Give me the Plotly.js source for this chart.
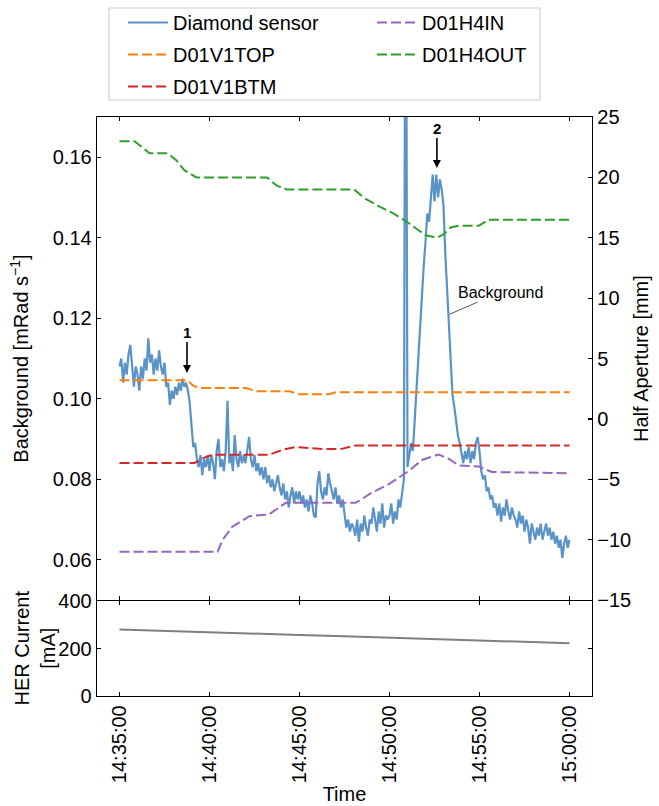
<!DOCTYPE html>
<html><head><meta charset="utf-8">
<script src="https://cdn.plot.ly/plotly-3.0.1.min.js"></script>
<style>html,body{margin:0;padding:0;background:#fff}</style>
</head><body><div id="chart" style="width:659px;height:806px"></div>
<script>
const DAY = "2024-01-01 ";
// Diamond sensor background rate [mRad/s], read every 6 s from 14:35:00
const diamondStart = "14:35:00";
const diamondStepSec = 6;
const diamondValues = [
 0.108,0.110,0.104,0.109,0.106,0.111,0.1134,0.107,0.103,0.108,
 0.106,0.102,0.108,0.105,0.110,0.107,0.115,0.109,0.111,0.106,
 0.110,0.107,0.112,0.108,0.106,0.109,0.103,0.104,0.0985,0.102,
 0.100,0.103,0.101,0.104,0.102,0.105,0.103,0.104,0.102,0.099,
 0.094,0.088,0.089,0.085,0.083,0.086,0.081,0.085,0.083,0.086,
 0.082,0.086,0.084,0.080,0.087,0.090,0.083,0.085,0.082,0.087,
 0.0995,0.084,0.086,0.082,0.091,0.085,0.083,0.087,0.084,0.086,
 0.084,0.087,0.0905,0.085,0.083,0.086,0.082,0.084,0.081,0.083,
 0.080,0.083,0.079,0.081,0.078,0.080,0.077,0.079,0.081,0.078,
 0.076,0.079,0.075,0.077,0.073,0.076,0.078,0.074,0.077,0.075,
 0.077,0.074,0.076,0.073,0.075,0.072,0.076,0.074,0.071,0.0705,
 0.079,0.082,0.077,0.075,0.078,0.076,0.0815,0.079,0.077,0.075,
 0.078,0.074,0.076,0.073,0.075,0.071,0.068,0.070,0.067,0.069,
 0.068,0.066,0.070,0.0645,0.069,0.067,0.071,0.068,0.066,0.070,
 0.069,0.073,0.070,0.067,0.072,0.069,0.074,0.068,0.071,0.070,
 0.071,0.074,0.069,0.072,0.070,0.075,0.073,0.077,0.080,0.25,
 0.083,0.086,0.089,0.087,0.095,0.103,0.111,0.118,0.126,0.133,
 0.139,0.146,0.144,0.151,0.1557,0.149,0.1557,0.150,0.1545,0.152,
 0.148,0.136,0.127,0.119,0.110,0.101,0.098,0.094,0.091,0.089,
 0.086,0.084,0.087,0.085,0.088,0.084,0.087,0.085,0.089,0.0905,
 0.087,0.082,0.080,0.081,0.077,0.078,0.075,0.076,0.073,0.074,
 0.071,0.074,0.0695,0.073,0.071,0.075,0.072,0.070,0.073,0.071,
 0.070,0.068,0.072,0.069,0.071,0.067,0.070,0.068,0.064,0.069,
 0.067,0.065,0.068,0.066,0.069,0.065,0.067,0.069,0.066,0.068,
 0.065,0.067,0.064,0.066,0.063,0.065,0.0605,0.064,0.066,0.063,
 0.065
];
// Collimator half apertures [mm]
const v1topTimes = ["14:35:00","14:38:46","14:39:06","14:39:26","14:42:01","14:42:35","14:44:25","14:44:59","14:46:38","14:47:01","15:00:00"];
const v1topValues = [3.2,3.2,2.75,2.55,2.55,2.3,2.3,2.05,2.05,2.2,2.2];
const v1btmTimes = ["14:35:00","14:39:10","14:39:43","14:40:10","14:43:19","14:44:05","14:44:48","14:46:15","14:47:17","14:48:07","15:00:00"];
const v1btmValues = [-3.65,-3.65,-3.2,-2.96,-2.96,-2.55,-2.33,-2.5,-2.5,-2.2,-2.2];
const h4inTimes = ["14:35:00","14:40:27","14:40:44","14:41:17","14:42:13","14:43:19","14:44:14","14:48:07","14:49:02","14:49:58","14:51:05","14:51:48","14:52:44","14:53:17","14:53:51","14:54:58","14:55:41","15:00:00"];
const h4inValues = [-11.0,-11.0,-10.0,-8.9,-8.06,-7.9,-6.95,-6.95,-6.1,-5.4,-4.3,-3.4,-2.95,-3.3,-3.85,-3.95,-4.4,-4.5];
const h4outTimes = ["14:35:00","14:35:50","14:36:40","14:37:40","14:38:10","14:38:36","14:39:16","14:43:12","14:43:30","14:43:46","14:44:19","14:48:02","14:48:35","14:49:25","14:50:14","14:51:05","14:51:38","14:52:01","14:52:38","14:53:01","14:53:24","14:53:51","14:54:58","14:55:31","15:00:00"];
const h4outValues = [23.0,23.0,22.0,22.0,21.4,20.6,20.0,20.0,19.6,19.3,19.0,19.0,18.3,17.6,17.0,16.2,15.6,15.2,15.0,15.3,15.85,16.0,16.0,16.5,16.5];
// HER beam current [mA]
const herTimes = ["14:35:00","14:37:30","14:40:00","14:42:30","14:45:00","14:47:30","14:50:00","14:52:30","14:55:00","14:57:30","15:00:00"];
const herValues = [281,276,270,265,258,252,246,240,234,228,223];
const xTickLabels = ["14:35:00","14:40:00","14:45:00","14:50:00","14:55:00","15:00:00"];
const backgroundTicks = [0.06,0.08,0.10,0.12,0.14,0.16];
const apertureTicks = [-15,-10,-5,0,5,10,15,20,25];
const currentTicks = [0,200,400];

function toDate(t){ return DAY + t; }
function addSec(t, s){
  const p = t.split(":").map(Number);
  let tot = p[0]*3600 + p[1]*60 + p[2] + s;
  const h = Math.floor(tot/3600); tot -= h*3600;
  const m = Math.floor(tot/60); const sec = tot - m*60;
  const f = n => String(n).padStart(2,"0");
  return f(h)+":"+f(m)+":"+f(sec);
}
const diamondTimes = diamondValues.map((v,i)=>toDate(addSec(diamondStart, i*diamondStepSec)));

const FONT = "Liberation Sans, Arial, Helvetica, sans-serif";
const DASH = "10px,4px";
const traces = [
  {x: diamondTimes, y: diamondValues, xaxis:"x2", yaxis:"y2", type:"scatter", mode:"lines",
   name:"Diamond sensor", line:{color:"#5a93c8", width:2.2}, legend:"legend", legendgroup:"a"},
  {x: v1topTimes.map(toDate), y: v1topValues, xaxis:"x2", yaxis:"y3", mode:"lines",
   name:"D01V1TOP", line:{color:"#ff7f0e", width:2, dash:DASH}, legend:"legend", legendgroup:"b"},
  {x: v1btmTimes.map(toDate), y: v1btmValues, xaxis:"x2", yaxis:"y3", mode:"lines",
   name:"D01V1BTM", line:{color:"#d62728", width:2, dash:DASH}, legend:"legend", legendgroup:"c"},
  {x: h4inTimes.map(toDate), y: h4inValues, xaxis:"x2", yaxis:"y3", mode:"lines",
   name:"D01H4IN", line:{color:"#9467bd", width:2, dash:DASH}, legend:"legend2", legendgroup:"d"},
  {x: h4outTimes.map(toDate), y: h4outValues, xaxis:"x2", yaxis:"y3", mode:"lines",
   name:"D01H4OUT", line:{color:"#2ca02c", width:2, dash:DASH}, legend:"legend2", legendgroup:"e"},
  {x: herTimes.map(toDate), y: herValues, xaxis:"x", yaxis:"y", mode:"lines",
   name:"HER current", line:{color:"#7f7f7f", width:2}, showlegend:false}
];

const W=659, H=806, L=97, R=67, T=117, B=110;
const plotW = W-L-R, plotH = H-T-B;
const LW = 1.3;
const split = (696-600.7)/plotH;
const half = (LW/2)/plotH;
const axCommon = {showline:true, linecolor:"#000", linewidth:LW, ticks:"inside", ticklen:4,
  tickcolor:"#000", tickwidth:1.2, showgrid:false, zeroline:false, automargin:false,
  tickfont:{family:FONT, size:20, color:"#000"}};
const xRange = [toDate("14:33:45"), toDate("15:01:15")];
const xTickVals = xTickLabels.map(toDate);

const legendCommon = {font:{family:FONT, size:20, color:"#000"}, bgcolor:"rgba(0,0,0,0)",
  borderwidth:0, traceorder:"grouped", tracegroupgap:3, itemwidth:40, xanchor:"left", yanchor:"top",
  xref:"paper", yref:"paper", itemclick:false};

const layout = {
  width:W, height:H, margin:{l:L, r:R, t:T, b:B, autoexpand:false},
  paper_bgcolor:"#fff", plot_bgcolor:"#fff",
  font:{family:FONT, size:20, color:"#000"},
  xaxis: Object.assign({}, axCommon, {type:"date", range:xRange, domain:[0,1], anchor:"y",
    tickvals:xTickVals, ticktext:xTickLabels, tickangle:-90, mirror:"ticks",
    title:{text:"Time", font:{family:FONT, size:20, color:"#000"}, standoff:4}}),
  xaxis2: Object.assign({}, axCommon, {type:"date", range:xRange, domain:[0,1], anchor:"y2",
    matches:"x", tickvals:xTickVals, showticklabels:false, mirror:"ticks"}),
  yaxis: Object.assign({}, axCommon, {domain:[0,split-half], range:[0,400], anchor:"x",
    tickvals:currentTicks, mirror:"ticks"}),
  yaxis2: Object.assign({}, axCommon, {domain:[split+half,1], range:[0.05,0.17], anchor:"x2",
    tickvals:backgroundTicks, tickformat:".2f",
    title:{text:"Background [mRad s<sup>−1</sup>]", font:{family:FONT, size:20, color:"#000"}, standoff:18}}),
  yaxis3: Object.assign({}, axCommon, {range:[-15,25], anchor:"x2", overlaying:"y2", side:"right",
    tickvals:apertureTicks,
    title:{text:"Half Aperture [mm]", font:{family:FONT, size:20, color:"#000"}, standoff:3}}),
  legend: Object.assign({}, legendCommon, {x:(123-L)/plotW, y:(H-B-3)/plotH}),
  legend2: Object.assign({}, legendCommon, {x:(372-L)/plotW, y:(H-B-3)/plotH}),
  shapes:[{type:"rect", xref:"paper", yref:"paper", x0:(109-L)/plotW, x1:(540-L)/plotW,
    y0:(H-B-100)/plotH, y1:(H-B-8)/plotH, line:{color:"#d0d0d0", width:1.2}, fillcolor:"rgba(255,255,255,0.8)", layer:"above"}],
  annotations:[
    {xref:"paper", yref:"paper", x:(34.5-L)/plotW, y:(696-648)/plotH, xanchor:"center", yanchor:"middle",
     text:"HER Current<br>[mA]", textangle:-90, showarrow:false,
     font:{family:FONT, size:20, color:"#000"}},
    {x:toDate("14:38:45"), y:0.1064, xref:"x2", yref:"y2", text:"<b>1</b>", showarrow:true,
     arrowhead:2, arrowsize:1, arrowwidth:1.6, arrowcolor:"#000", ax:0, ay:-41,
     font:{family:FONT, size:15, color:"#000"}},
    {x:toDate("14:52:38"), y:0.1573, xref:"x2", yref:"y2", text:"<b>2</b>", showarrow:true,
     arrowhead:2, arrowsize:1, arrowwidth:1.6, arrowcolor:"#000", ax:0, ay:-40,
     font:{family:FONT, size:15, color:"#000"}},
    {x:toDate("14:53:20"), y:0.121, xref:"x2", yref:"y2", text:"Background", showarrow:true,
     arrowhead:0, arrowwidth:1, arrowcolor:"#555", ax:51, ay:-22,
     font:{family:FONT, size:16, color:"#000"}}
  ]
};
Plotly.newPlot("chart", traces, layout, {staticPlot:true, displayModeBar:false});
</script></body></html>
